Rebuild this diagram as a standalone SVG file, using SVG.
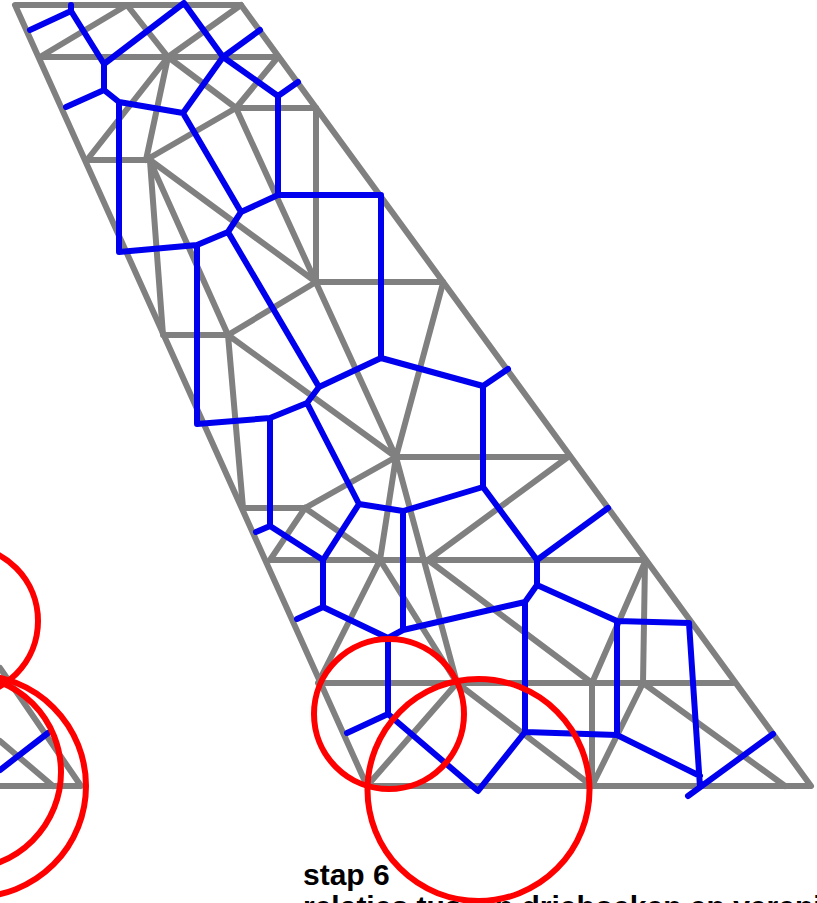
<svg xmlns="http://www.w3.org/2000/svg" width="817" height="903" viewBox="0 0 817 903">
<style>
.g{fill:none;stroke:#808080;stroke-width:6;stroke-linecap:round;stroke-linejoin:round}
.b{fill:none;stroke:#0000ee;stroke-width:6;stroke-linecap:round;stroke-linejoin:round}
.r{fill:none;stroke:#ff0000;stroke-width:6}
.t{font-family:"Liberation Sans",Arial,sans-serif;font-weight:bold;font-size:30px;fill:#000}
</style>
<rect width="817" height="903" fill="#fff"/>
<text class="t" x="303" y="885">stap 6</text>
<text class="t" x="303" y="917">relaties tussen driehoeken en verenigen</text>
<g id="mesh" class="g">
<path d="M15 5H241L811 786H367Z"/>
<path d="M40 57H278M40 57L127 5L168 57L241 5M168 57L236 108H316V282M236 108L278 57M236 108L146 160M168 57L146 160M168 57L87 160H150L316 282M150 161L163 335M150 161L228 335M236 108L396 457M316 282H443M316 282L228 335M163 335H228L396 457M228 335L243 508M443 283L396 457H568M396 457L305 508H243M305 508L270 560M305 508L380 560L457 683M396 457L380 560L318 683M396 457L457 683M568 457L428 560M270 560H645M428 560L592 683M318 683H733M457 683L367 786M457 683L592 786V683M592 786L643 683M592 683L645 562L643 683L785 786"/>
<path d="M0 668L81 786M0 741L53 786M0 786H81"/>
</g>
<g id="dual" class="b">
<path d="M30 30L71 11V5M71 11L104 64L184 3L223 57L260 30M223 57L278 96L298 82M278 96V195M223 57L183 113M104 64V90L66 107M104 90L119 102L183 113M119 102V252L197 245L228 232L241 212L278 195H381V358M183 113L241 212M228 232L319 387M197 245V424L270 418L307 403L319 387L381 358L483 386L508 369M270 418V526M307 403L359 504M483 386V487L403 511L359 504M403 511V628M359 504L323 560L270 526L256 532M323 560V607L297 619M323 607L388 638L403 630L525 602L537 585V560L483 487M537 560L608 508M537 585L617 621L689 623L700 787M617 621V735L525 732V602M525 732L478 791L388 714V638M388 714L347 733M617 735L700 776M773 734L688 796"/>
<path d="M0 770L48 733"/>
</g>
<g id="circles" class="r">
<circle cx="389" cy="714" r="75"/>
<circle cx="478.500" cy="790" r="111"/>
<circle cx="-37" cy="621" r="75"/>
<circle cx="-36" cy="772" r="97"/>
<circle cx="-25" cy="786" r="111"/>
</g>
</svg>
